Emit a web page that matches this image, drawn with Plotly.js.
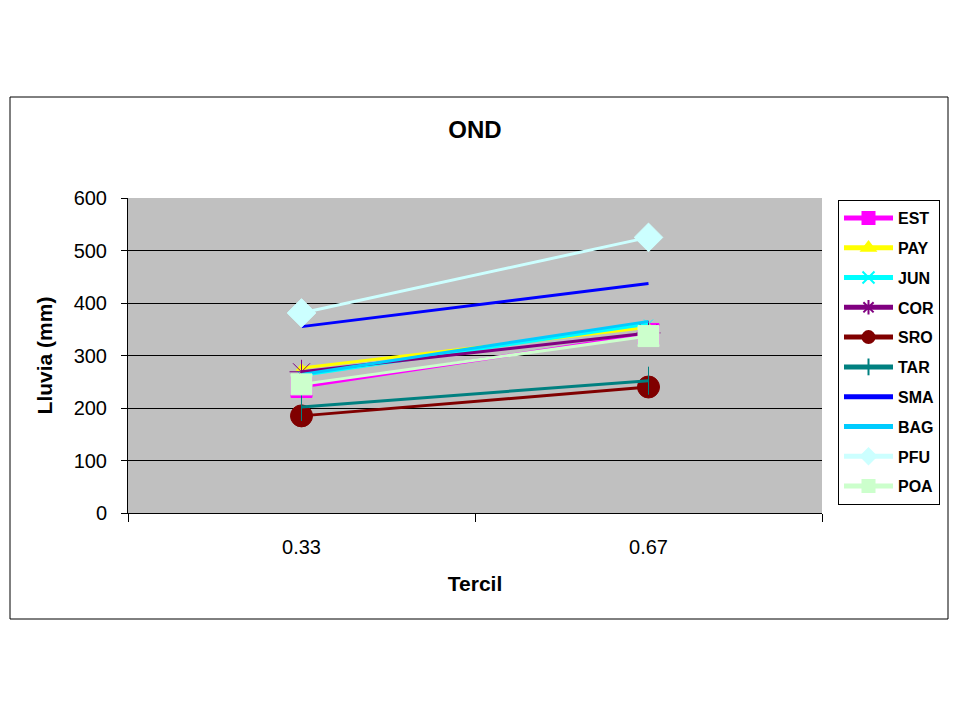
<!DOCTYPE html>
<html>
<head>
<meta charset="utf-8">
<script src="https://cdn.plot.ly/plotly-3.0.1.min.js"></script>
<style>html,body{margin:0;padding:0;background:#fff;}#chart{width:960px;height:720px;}</style>
</head>
<body>
<div id="chart"></div>
<script>
const categories = ['0.33', '0.67'];
const seriesNames = ['EST', 'PAY', 'JUN', 'COR', 'SRO', 'TAR', 'SMA', 'BAG', 'PFU', 'POA'];
const EST = [240, 341];
const PAY = [276, 354];
const JUN = [262, 360];
const COR = [269, 343];
const SRO = [185, 240];
const TAR = [202, 252];
const SMA = [355, 437];
const BAG = [264, 365];
const PFU = [381, 525];
const POA = [245, 337];
const values = [EST, PAY, JUN, COR, SRO, TAR, SMA, BAG, PFU, POA];

const styles = [
  {color: '#FF00FF', symbol: 'square', size: 21, mode: 'lines+markers'},
  {color: '#FFFF00', symbol: 'triangle-up', size: 9, mode: 'lines+markers'},
  {color: '#00FFFF', symbol: 'x-thin-open', size: 9, mode: 'lines+markers'},
  {color: '#800080', symbol: 'asterisk-open', size: 20, mode: 'lines+markers'},
  {color: '#800000', symbol: 'circle', size: 22, mode: 'lines+markers'},
  {color: '#008080', symbol: 'line-ns-open', size: 20, mode: 'lines+markers'},
  {color: '#0000FF', symbol: 'circle', size: 1, mode: 'lines'},
  {color: '#00CCFF', symbol: 'circle', size: 1, mode: 'lines'},
  {color: '#CCFFFF', symbol: 'diamond', size: 22, mode: 'lines+markers'},
  {color: '#CCFFCC', symbol: 'square', size: 21, mode: 'lines+markers'}
];

const traces = seriesNames.map((n, i) => ({
  type: 'scatter',
  x: categories,
  y: values[i],
  name: n,
  legendgroup: n,
  mode: styles[i].mode,
  line: {color: styles[i].color, width: 3},
  marker: {color: styles[i].color, symbol: styles[i].symbol, size: styles[i].size,
           line: {color: styles[i].color, width: 1}}
}));

const W = 960, H = 720;
const L = 128, R = 822, T = 198, B = 513;
const pw = R - L, ph = B - T;
const px = v => (v - L) / pw;
const py = v => (B - v) / ph;

const layout = {
  width: W, height: H,
  margin: {l: L, r: W - R, t: T, b: H - B, pad: 0},
  paper_bgcolor: '#FFFFFF',
  plot_bgcolor: '#C0C0C0',
  font: {family: '"Liberation Sans", Arial, sans-serif', color: '#000'},
  showlegend: true,
  title: {text: '<b>OND</b>', font: {size: 24, color: '#000'}, x: 0.5, xref: 'paper', xanchor: 'center',
          y: 1 - 130 / H, yref: 'container', yanchor: 'middle'},
  xaxis: {
    type: 'category',
    range: [-0.5, 1.5],
    showgrid: false,
    showline: true, linecolor: '#000', linewidth: 1,
    ticks: 'outside', ticklen: 8, tickcolor: '#000', tickson: 'boundaries',
    tickfont: {size: 20},
    ticklabelstandoff: 16,
    title: {text: '<b>Tercil</b>', font: {size: 21}, standoff: 19},
    zeroline: false,
    fixedrange: true
  },
  yaxis: {
    range: [0, 600],
    dtick: 100,
    showgrid: true, gridcolor: '#000', gridwidth: 1,
    showline: true, linecolor: '#000', linewidth: 1,
    ticks: 'outside', ticklen: 6, tickcolor: '#000',
    tickfont: {size: 20},
    ticklabelstandoff: 10,
    title: {text: '<b>Lluvia (mm)</b>', font: {size: 21}, standoff: 15},
    zeroline: false,
    fixedrange: true
  },
  legend: {
    x: px(838), y: py(200), xanchor: 'left', yanchor: 'top',
    bgcolor: '#FFFFFF', bordercolor: '#000', borderwidth: 1,
    font: {size: 16, color: '#000', weight: 'bold'},
    tracegroupgap: 6,
    itemwidth: 49,
    itemsizing: 'constant',
    traceorder: 'grouped'
  },
  shapes: [
    {type: 'rect', xref: 'paper', yref: 'paper', x0: px(10), x1: px(948), y0: py(619), y1: py(97),
     line: {color: '#000', width: 1}, fillcolor: 'rgba(0,0,0,0)', layer: 'below'}
  ]
};

Plotly.newPlot('chart', traces, layout, {displayModeBar: false, staticPlot: true});
</script>
</body>
</html>
